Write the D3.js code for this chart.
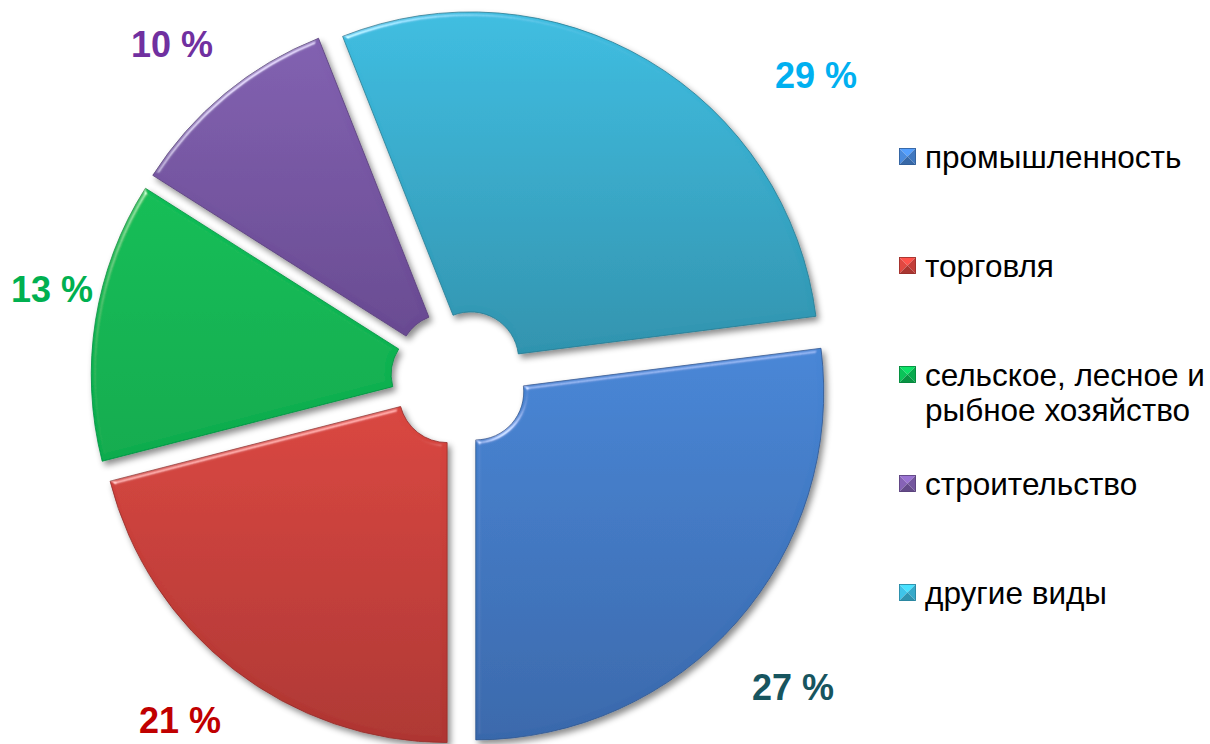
<!DOCTYPE html>
<html>
<head>
<meta charset="utf-8">
<script src="https://cdn.jsdelivr.net/npm/d3@7"></script>
<style>
    body { margin: 0; background: #fff; }
    svg { display: block; font-family: "Liberation Sans", Arial, sans-serif; }
</style>
</head>
<body>
<svg id="pie-chart"></svg>
<script>
// chart data
const categories = ["промышленность", "торговля", "сельское, лесное и рыбное хозяйство", "строительство", "другие виды"];
const legendLines = [["промышленность"], ["торговля"], ["сельское, лесное и", "рыбное хозяйство"], ["строительство"], ["другие виды"]];
const shares = [27, 21, 13, 10, 29];
const valueLabels = ["27 %", "21 %", "13 %", "10 %", "29 %"];

// styles
const sliceTop = ["#4786d6", "#d9453f", "#0abd56", "#8160b0", "#3dbde1"];
const sliceBottom = ["#3968ab", "#ae3531", "#07ab4d", "#684991", "#2f93ae"];
const labelColors = ["#17555f", "#c00000", "#00b050", "#7030a0", "#00b0f0"];
// label anchors were placed by hand in the original
const labelPos = [[793, 700], [180, 733], [52, 302], [172, 57], [816, 88]];

const width = 1210, height = 744;
const cx = 460, cy = 378;
const outerR = 348, innerR = 48, explode = 21;
const startA = 82.8 * Math.PI / 180;

let svg = d3.select("#pie-chart")
    .attr("width", width)
    .attr("height", height);

let defs = svg.append("defs");

// vertical gradient per slice
shares.forEach((d, i) => {
    let g = defs.append("linearGradient")
        .attr("id", "grad" + i)
        .attr("x1", 0).attr("y1", 0).attr("x2", 0).attr("y2", 1);
    g.append("stop").attr("offset", "0%").attr("stop-color", sliceTop[i]);
    g.append("stop").attr("offset", "100%").attr("stop-color", sliceBottom[i]);
});

// bevel + drop shadow
let f = defs.append("filter")
    .attr("id", "bevel")
    .attr("x", "-10%").attr("y", "-10%")
    .attr("width", "125%").attr("height", "125%");
f.append("feGaussianBlur").attr("in", "SourceAlpha").attr("stdDeviation", 3).attr("result", "sb");
f.append("feOffset").attr("in", "sb").attr("dx", 3).attr("dy", 4).attr("result", "so");
f.append("feFlood").attr("flood-color", "#000").attr("flood-opacity", 0.45).attr("result", "sf");
f.append("feComposite").attr("in", "sf").attr("in2", "so").attr("operator", "in").attr("result", "shadow");
f.append("feGaussianBlur").attr("in", "SourceAlpha").attr("stdDeviation", 2.5).attr("result", "blur");
let spec = f.append("feSpecularLighting")
    .attr("in", "blur")
    .attr("surfaceScale", 4)
    .attr("specularConstant", 1)
    .attr("specularExponent", 30)
    .attr("lighting-color", "#ffffff")
    .attr("result", "spec");
spec.append("feDistantLight").attr("azimuth", 235).attr("elevation", 25);
f.append("feComposite").attr("in", "spec").attr("in2", "SourceAlpha").attr("operator", "in").attr("result", "specIn");
f.append("feComposite").attr("in", "SourceGraphic").attr("in2", "specIn")
    .attr("operator", "arithmetic").attr("k1", 0).attr("k2", 1).attr("k3", 0.55).attr("k4", 0)
    .attr("result", "lit");
let merge = f.append("feMerge");
merge.append("feMergeNode").attr("in", "shadow");
merge.append("feMergeNode").attr("in", "lit");

let pie = d3.pie()
    .sort(null)
    .startAngle(startA)
    .endAngle(startA + 2 * Math.PI);

let arc = d3.arc()
    .innerRadius(innerR)
    .outerRadius(outerR);

let arcs = pie(shares);

let offset = d => {
    let mid = (d.startAngle + d.endAngle) / 2;
    return [Math.sin(mid) * explode, -Math.cos(mid) * explode];
};

svg.append("g")
    .attr("transform", `translate(${cx},${cy})`)
    .selectAll("path")
    .data(arcs)
    .join("path")
    .attr("transform", d => `translate(${offset(d)[0]},${offset(d)[1]})`)
    .attr("d", arc)
    .attr("fill", (d, i) => `url(#grad${i})`)
    .attr("stroke", (d, i) => d3.color(sliceBottom[i]).darker(0.5))
    .attr("stroke-width", 0.8)
    .attr("filter", "url(#bevel)");

// value labels
svg.append("g")
    .selectAll("text")
    .data(valueLabels)
    .join("text")
    .attr("x", (d, i) => labelPos[i][0])
    .attr("y", (d, i) => labelPos[i][1])
    .attr("text-anchor", "middle")
    .attr("font-size", 36)
    .attr("font-weight", "bold")
    .attr("fill", (d, i) => labelColors[i])
    .text(d => d);

// legend
let legendX = 899, legendY = 168, legendStep = 109, box = 17, lineH = 35;
let legend = svg.append("g")
    .selectAll("g")
    .data(categories)
    .join("g")
    .attr("transform", (d, i) => `translate(${legendX},${legendY + i * legendStep})`);

// pyramid style marker: four triangles with different shading
legend.each(function(d, i) {
    let g = d3.select(this);
    let base = d3.color(sliceTop[i]);
    let x0 = 0, y0 = -box - 3, x1 = box, y1 = -3, mx = box / 2, my = y0 + box / 2;
    let tris = [
        [[x0, y0], [x1, y0], [mx, my], base.brighter(0.5)],
        [[x0, y0], [x0, y1], [mx, my], base.brighter(0.1)],
        [[x1, y0], [x1, y1], [mx, my], base.darker(0.3)],
        [[x0, y1], [x1, y1], [mx, my], base.darker(0.7)]
    ];
    g.selectAll("path")
        .data(tris)
        .join("path")
        .attr("d", t => `M${t[0][0]},${t[0][1]}L${t[1][0]},${t[1][1]}L${t[2][0]},${t[2][1]}Z`)
        .attr("fill", t => t[3]);
    g.append("rect")
        .attr("x", x0 + 0.5).attr("y", y0 + 0.5)
        .attr("width", box - 1).attr("height", box - 1)
        .attr("fill", "none")
        .attr("stroke", base.darker(1))
        .attr("stroke-width", 0.8);
});

legend.append("text")
    .attr("x", 26)
    .attr("y", 0)
    .attr("font-size", 31.5)
    .attr("fill", "#000")
    .selectAll("tspan")
    .data((d, i) => legendLines[i])
    .join("tspan")
    .attr("x", 26)
    .attr("dy", (d, j) => j === 0 ? 0 : lineH)
    .text(d => d);
</script>
</body>
</html>
